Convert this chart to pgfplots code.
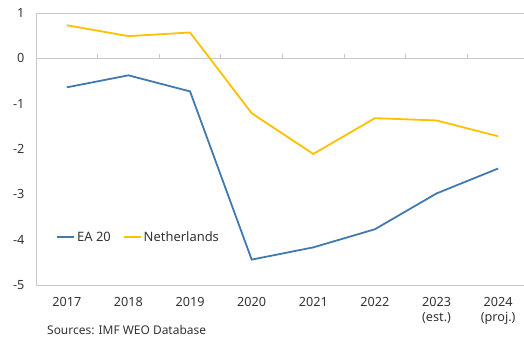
\documentclass[border=0pt]{standalone}
\usepackage{pgfplots}
\pgfplotsset{compat=1.18}
\usepackage{fontspec}
\setmainfont{Noto Sans}
\definecolor{eablue}{RGB}{66,122,176}
\definecolor{nlyellow}{RGB}{255,192,0}
\definecolor{axgray}{RGB}{200,200,200}
\begin{document}
\begin{tikzpicture}
\begin{axis}[
  scale only axis,
  width=493bp, height=272bp,
  xmin=-0.5, xmax=7.5,
  ymin=-5, ymax=1,
  axis line style={axgray, line width=0.9bp},
  xtick={0,1,2,3,4,5,6,7},
  xticklabels={2017,2018,2019,2020,2021,2022,{2023\\(est.)},{2024\\(proj.)}},
  ytick={-5,-4,-3,-2,-1,0,1},
  yticklabels={-5,-4,-3,-2,-1,0,1},
  major tick length=0pt,
  tick label style={font=\fontsize{12.7}{15}\selectfont, text=black!80},
  xticklabel style={align=center, anchor=north, yshift=-9bp},
  yticklabel style={anchor=east, xshift=-8bp},
  legend style={draw=none, fill=none, at={(0.035,0.176)}, anchor=west,
    font=\fontsize{13}{15}\selectfont, text=black!80,
    /tikz/every even column/.append style={column sep=10bp}},
  legend columns=2,
  legend image code/.code={\draw[#1] (0bp,0bp) -- (17bp,0bp);},
  clip=false,
]
\draw[axgray, line width=0.9bp] (axis cs:-0.5,0) -- (axis cs:7.5,0);
\pgfplotsinvokeforeach{0.5,1.5,2.5,3.5,4.5,5.5,6.5}{
  \draw[axgray, line width=0.9bp] (axis cs:#1,0) -- ([yshift=4bp]axis cs:#1,0);
}
\addplot[eablue, line width=1.8bp] coordinates {
(0,-0.64) (1,-0.375) (2,-0.73) (3,-4.44) (4,-4.17) (5,-3.77) (6,-2.98) (7,-2.43)};
\addlegendentry{EA 20}
\addplot[nlyellow, line width=1.8bp] coordinates {
(0,0.73) (1,0.49) (2,0.57) (3,-1.21) (4,-2.11) (5,-1.32) (6,-1.37) (7,-1.72)};
\addlegendentry{Netherlands}
\end{axis}
\node[anchor=north west, font=\fontsize{12}{14}\selectfont, text=black!80, inner sep=0pt] at ([xshift=11bp,yshift=-40bp]current axis.south west) {Sources: IMF WEO Database};
\pgfresetboundingbox
\path ([xshift=-36bp,yshift=-53bp]current axis.south west) rectangle ++(524bp,338bp);
\end{tikzpicture}
\end{document}
